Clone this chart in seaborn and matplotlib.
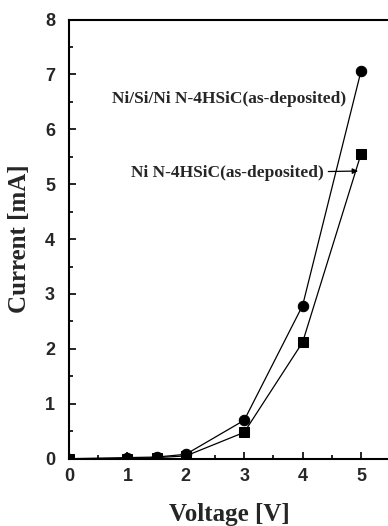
import matplotlib
matplotlib.use("Agg")
import matplotlib.pyplot as plt
import seaborn as sns
import pandas as pd
from matplotlib.ticker import MultipleLocator

voltage = [0, 1, 1.5, 2, 3, 4, 5]
current_nisini = [0.0, 0.02, 0.03, 0.08, 0.70, 2.79, 7.06]
current_ni = [0.0, 0.0, 0.02, 0.05, 0.48, 2.12, 5.55]
label_nisini = "Ni/Si/Ni N-4HSiC(as-deposited)"
label_ni = "Ni N-4HSiC(as-deposited)"
xticks = [0, 1, 2, 3, 4, 5]
yticks = [0, 1, 2, 3, 4, 5, 6, 7, 8]

df = pd.concat([
    pd.DataFrame({"Voltage": voltage, "Current": current_nisini, "Sample": label_nisini}),
    pd.DataFrame({"Voltage": voltage, "Current": current_ni, "Sample": label_ni}),
])

sns.set_style("ticks")
fig = plt.figure(figsize=(3.88, 5.26), dpi=100)
W, H = 388, 526
x0, x1 = 69, 390
yb, yt = 458.7, 19.5
ax = fig.add_axes([x0 / W, 1 - yb / H, (x1 - x0) / W, (yb - yt) / H])

sns.lineplot(data=df, x="Voltage", y="Current", hue="Sample", style="Sample",
             markers={label_nisini: "o", label_ni: "s"}, dashes=False,
             palette={label_nisini: "black", label_ni: "black"},
             markersize=7.5, linewidth=0.9, markeredgecolor="black",
             legend=False, ax=ax)
for line in ax.lines:
    if line.get_marker() == "s":
        line.set_markersize(6.5)

ax.set_xlim(0, (x1 - x0) / 58.4)
ax.set_ylim(0, 8)
ax.set_xticks(xticks)
ax.set_yticks(yticks)
ax.xaxis.set_minor_locator(MultipleLocator(0.5))
ax.yaxis.set_minor_locator(MultipleLocator(0.5))
ax.tick_params(which="both", direction="in", top=False, right=False, width=1.2, color="black")
ax.tick_params(which="major", length=5)
ax.tick_params(which="minor", length=3)
for s in ax.spines.values():
    s.set_linewidth(1.5)
    s.set_color("black")

tick_font = dict(family="Liberation Sans", weight="bold", size=13)
ax.set_xticklabels([str(t) for t in xticks], **tick_font)
ax.set_yticklabels([str(t) for t in yticks], **tick_font)
ax.tick_params(axis="x", pad=7)
ax.tick_params(axis="y", pad=10)

lab_font = dict(family="Liberation Serif", weight="bold", size=18)
ax.set_xlabel("Voltage [V]", labelpad=13, **lab_font)
ax.set_ylabel("Current [mA]", labelpad=10, **lab_font)

ann_font = dict(family="Liberation Serif", weight="bold", size=12.5)
ax.text(2.74, 6.55, label_nisini, ha="center", va="center", **ann_font)
ax.annotate(label_ni, xy=(4.95, 5.24), xytext=(4.36, 5.2), ha="right", va="center",
            arrowprops=dict(arrowstyle="-|>", color="black", lw=0.9, mutation_scale=8,
                            shrinkA=1, shrinkB=0),
            **ann_font)

fig.savefig("out.png", dpi=100)
